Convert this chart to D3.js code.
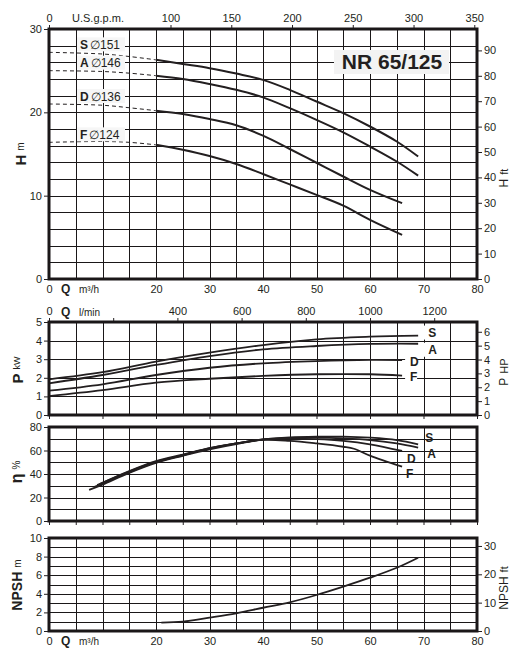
<!DOCTYPE html>
<html><head><meta charset="utf-8">
<script src="https://cdn.jsdelivr.net/npm/d3@7"></script>
<style>
body{margin:0;background:#fff}
text{font-family:"Liberation Sans",Arial,Helvetica,sans-serif;fill:#231f20}
</style>
</head><body><svg id="c" width="513" height="662"></svg>
<script>
// ---------- data ----------
const curveNames = ["S","A","D","F"];
const impellerDiam = ["151","146","136","124"];
const modelName = "NR 65/125";
const dashedUntilQ = 20;

const headS = [[0,27.2],[10,27.0],[15,26.7],[20,26.3],[25,25.8],[30,25.3],[35,24.65],[40,23.9],[45,22.7],[50,21.3],[55,19.9],[60,18.3],[65,16.5],[69,14.7]];
const headA = [[0,25.0],[10,24.9],[15,24.7],[20,24.4],[25,24.0],[30,23.4],[35,22.7],[40,21.8],[45,20.5],[50,19.1],[55,17.6],[60,15.9],[65,14.1],[69,12.4]];
const headD = [[0,21.0],[10,20.85],[15,20.55],[20,20.2],[25,19.8],[30,19.2],[35,18.45],[40,17.2],[45,15.6],[50,13.95],[55,12.3],[60,10.7],[66,9.1]];
const headF = [[0,16.4],[10,16.5],[15,16.4],[20,16.1],[25,15.5],[30,14.75],[35,13.8],[40,12.6],[45,11.35],[50,10.1],[55,8.8],[60,7.1],[66,5.3]];

const powerS = [[0,1.92],[10,2.30],[20,2.87],[30,3.35],[40,3.76],[50,4.07],[60,4.21],[69,4.27]];
const powerA = [[0,1.70],[10,2.15],[20,2.69],[30,3.17],[40,3.53],[50,3.71],[60,3.82],[69,3.83]];
const powerD = [[0,1.31],[10,1.65],[20,2.15],[30,2.54],[40,2.78],[50,2.90],[60,2.96],[66,2.95]];
const powerF = [[0,1.02],[10,1.34],[20,1.74],[30,1.95],[40,2.10],[50,2.19],[60,2.19],[66,2.12]];

const effS = [[9.5,31.5],[15,42.5],[20,51],[25,56.5],[30,62],[35,66],[40,69.5],[45,71.2],[50,71.8],[55,71.8],[60,70.9],[65,68.9],[69,65.3]];
const effA = [[9,30.5],[15,42],[20,50.5],[25,56],[30,62],[35,66],[40,69.5],[45,70.8],[50,71],[55,70.3],[60,68.9],[65,66],[69,62.4]];
const effD = [[8.5,29],[15,41.5],[20,50],[25,56],[30,61.5],[35,66],[40,69.3],[45,70],[50,69.6],[55,68.2],[60,65.3],[66,59.6]];
const effF = [[7.5,26.5],[10,31],[15,41],[20,49.5],[25,55.5],[30,61],[35,65.5],[40,69],[45,68.2],[50,66],[55,63.2],[57,61.5],[60,55.6],[66,46.2]];

const npsh = [[21,0.9],[25,1.0],[30,1.43],[35,1.9],[40,2.5],[45,3.08],[50,3.87],[55,4.77],[60,5.73],[65,6.8],[69,7.88]];

const flowLabelTicks = [0,20,30,40,50,60,70,80];
const gpmTicks = [0,100,150,200,250,300,350];
const lminTicks = [0,400,600,800,1000,1200];
const headTicks = [0,10,20,30];
const headFtTicks = [0,10,20,30,40,50,60,70,80,90];
const powerTicks = [0,1,2,3,4,5];
const powerHpTicks = [0,1,2,3,4,5,6];
const effTicks = [0,20,40,60,80];
const npshTicks = [0,2,4,6,8,10];
const npshFtTicks = [0,10,20,30];

// ---------- layout ----------
const svg = d3.select("#c");
const X0 = 49, X1 = 477;
const x = d3.scaleLinear().domain([0,80]).range([X0,X1]);
const xGpm = d3.scaleLinear().domain([0,80*4.40287]).range([X0,X1]);
const xLmin = d3.scaleLinear().domain([0,80*1000/60]).range([X0,X1]);

const P1 = {top:29, bottom:279}, P2 = {top:322, bottom:415}, P3 = {top:427, bottom:521}, P4 = {top:538, bottom:631};
const yH = d3.scaleLinear().domain([0,30]).range([P1.bottom,P1.top]);
const yHft = d3.scaleLinear().domain([0,30/0.3048]).range([P1.bottom,P1.top]);
const yP = d3.scaleLinear().domain([0,5]).range([P2.bottom,P2.top]);
const yPhp = d3.scaleLinear().domain([0,5/0.7457]).range([P2.bottom,P2.top]);
const yE = d3.scaleLinear().domain([0,80]).range([P3.bottom,P3.top]);
const yN = d3.scaleLinear().domain([0,10]).range([P4.bottom,P4.top]);
const yNft = d3.scaleLinear().domain([0,10/0.3048]).range([P4.bottom,P4.top]);

const FS = 11;
const fmt = d3.format("d");
const crisp = v => Math.round(v) + 0.5;
function grid(P, y, step, max){
  const g = svg.append("g").attr("stroke","#1a1718").attr("stroke-width",1).attr("shape-rendering","crispEdges");
  for(let q=5;q<80;q+=5) g.append("line").attr("x1",crisp(x(q))).attr("x2",crisp(x(q))).attr("y1",P.top).attr("y2",P.bottom);
  for(let v=step; v<max-1e-9; v+=step) g.append("line").attr("x1",X0).attr("x2",X1).attr("y1",crisp(y(v))).attr("y2",crisp(y(v)));
}
function frame(P){
  svg.append("rect").attr("x",X0).attr("y",P.top).attr("width",X1-X0).attr("height",P.bottom-P.top)
    .attr("fill","none").attr("stroke","#1a1718").attr("stroke-width",3);
}
function styleAxis(g){
  g.select(".domain").remove();
  g.selectAll("line").attr("stroke","#231f20").attr("stroke-width",1);
  g.selectAll("text").attr("font-size",FS).attr("font-family","Liberation Sans, Arial, sans-serif").attr("fill","#231f20");
}
function leftAxis(y, vals){
  svg.append("g").attr("transform",`translate(${X0-1},0)`).call(d3.axisLeft(y).tickValues(vals).tickFormat(fmt).tickSize(4).tickPadding(2)).call(styleAxis);
}
function rightAxis(y, vals){
  svg.append("g").attr("transform",`translate(${X1+1},0)`).call(d3.axisRight(y).tickValues(vals).tickFormat(fmt).tickSize(4).tickPadding(2)).call(styleAxis);
}
function flowBottom(yPos){
  svg.append("g").attr("transform",`translate(0,${yPos})`).call(d3.axisBottom(x).tickValues(flowLabelTicks).tickFormat(fmt).tickSize(0).tickPadding(6)).call(styleAxis);
  const base = yPos + 6 + 8;
  svg.append("text").attr("x",61).attr("y",base).attr("font-size",FS+1).attr("font-weight","bold").text("Q");
  svg.append("text").attr("x",79).attr("y",base).attr("font-size",FS-1).text("m³/h");
}
function rotLabel(cx, cy, bold, rest, bsize, rsize, boldWeight){
  const t = svg.append("text").attr("transform",`translate(${cx},${cy}) rotate(-90)`).attr("text-anchor","middle").attr("dominant-baseline","central");
  t.append("tspan").attr("font-size",bsize).attr("font-weight",boldWeight).text(bold);
  t.append("tspan").attr("font-size",rsize).attr("dx",4).text(rest);
}
const line = (xs, ys) => d3.line().x(d=>xs(d[0])).y(d=>ys(d[1])).curve(d3.curveCatmullRom.alpha(0.5));

// ---------- Panel 1: Head ----------
grid(P1, yH, 2, 30);
const heads = [headS, headA, headD, headF];
heads.forEach((h,i)=>{
  const dashed = h.filter(d=>d[0]<=dashedUntilQ), solid = h.filter(d=>d[0]>=dashedUntilQ);
  svg.append("path").attr("d",line(x,yH)(dashed)).attr("fill","none").attr("stroke","#231f20").attr("stroke-width",1).attr("stroke-dasharray","4,3");
  svg.append("path").attr("d",line(x,yH)(solid)).attr("fill","none").attr("stroke","#231f20").attr("stroke-width",2);
});
heads.forEach((h,i)=>{
  const cy = yH(h[0][1]) - 8;
  svg.append("rect").attr("x",77).attr("y",cy-7).attr("width",48).attr("height",14).attr("fill","#f6f6f6");
  const t = svg.append("text").attr("x",80).attr("y",cy+4.5).attr("font-size",12);
  t.append("tspan").attr("font-weight","bold").text(curveNames[i]);
  t.append("tspan").attr("dx",2).text("\u2205" + impellerDiam[i]);
});
svg.append("rect").attr("x",334).attr("y",50).attr("width",115).attr("height",24).attr("fill","#f3f3f3");
svg.append("text").attr("x",392).attr("y",69).attr("text-anchor","middle").attr("font-size",21).attr("font-weight","bold").text(modelName);
frame(P1);
leftAxis(yH, headTicks);
rightAxis(yHft, headFtTicks);
svg.append("g").attr("transform",`translate(0,${P1.top-1})`).call(d3.axisTop(xGpm).tickValues(gpmTicks).tickFormat(fmt).tickSize(3).tickPadding(3)).call(styleAxis);
svg.append("text").attr("x",72).attr("y",P1.top-7).attr("font-size",FS).text("U.S.g.p.m.");
flowBottom(P1.bottom);
rotLabel(20,154,"H","m",15,10,"bold");
rotLabel(504,178,"H","ft",12,11,"normal");

// ---------- Panel 2: Power ----------
grid(P2, yP, 1, 5);
const powers = [powerS, powerA, powerD, powerF];
powers.forEach(p=>{
  svg.append("path").attr("d",line(x,yP)(p)).attr("fill","none").attr("stroke","#231f20").attr("stroke-width",1.8);
});
powers.forEach((p,i)=>{
  const last = p[p.length-1];
  const lx = x(last[0]) + (i<2 ? 10 : 8), ly = yP(last[1]) + (i===0 ? -3 : (i===1 ? 6 : 1));
  svg.append("rect").attr("x",lx-5).attr("y",ly-7).attr("width",12).attr("height",14).attr("fill","#fff");
  svg.append("text").attr("x",lx).attr("y",ly+4.5).attr("font-size",12).attr("font-weight","bold").text(curveNames[i]);
});
frame(P2);
leftAxis(yP, powerTicks);
rightAxis(yPhp, powerHpTicks);
svg.append("g").attr("transform",`translate(0,${P2.top-1})`).call(d3.axisTop(xLmin).tickValues(lminTicks).tickFormat(fmt).tickSize(3).tickPadding(3)).call(styleAxis);
svg.append("g").attr("transform",`translate(0,${P2.top-1})`).call(d3.axisTop(xLmin).tickValues([200]).tickSize(3).tickFormat("")).call(styleAxis);
svg.append("text").attr("x",61).attr("y",P2.top-6).attr("font-size",FS+1).attr("font-weight","bold").text("Q");
svg.append("text").attr("x",79).attr("y",P2.top-6).attr("font-size",FS-1).text("l/min");
svg.append("g").attr("transform",`translate(0,${P2.bottom+1})`).call(d3.axisBottom(x).tickValues(d3.range(0,81,10)).tickSize(3).tickFormat("")).call(styleAxis);
rotLabel(17,370,"P","kW",15,9,"bold");
rotLabel(504,372,"P","HP",12,11,"normal");

// ---------- Panel 3: Efficiency ----------
grid(P3, yE, 10, 80);
const effs = [effS, effA, effD, effF];
effs.forEach(e=>{
  svg.append("path").attr("d",line(x,yE)(e)).attr("fill","none").attr("stroke","#231f20").attr("stroke-width",1.8);
});
effs.forEach((e,i)=>{
  const last = e[e.length-1];
  const offs = [[7,-7],[9,6],[5,8],[4,7]];
  const lx = x(last[0]) + offs[i][0], ly = yE(last[1]) + offs[i][1];
  svg.append("text").attr("x",lx).attr("y",ly+4.5).attr("font-size",12).attr("font-weight","bold").text(curveNames[i]);
});
frame(P3);
leftAxis(yE, effTicks);
svg.append("g").attr("transform",`translate(0,${P3.bottom+1})`).call(d3.axisBottom(x).tickValues(d3.range(0,81,5)).tickSize(3).tickFormat("")).call(styleAxis);
rotLabel(16,472,"\u03b7","%",16,10,"bold");

// ---------- Panel 4: NPSH ----------
grid(P4, yN, 1, 10);
svg.append("path").attr("d",line(x,yN)(npsh)).attr("fill","none").attr("stroke","#231f20").attr("stroke-width",1.8);
frame(P4);
leftAxis(yN, npshTicks);
rightAxis(yNft, npshFtTicks);
flowBottom(P4.bottom);
rotLabel(17,585,"NPSH","m",14,10,"bold");
rotLabel(504,588,"NPSH","ft",12,11,"normal");
</script></body></html>
